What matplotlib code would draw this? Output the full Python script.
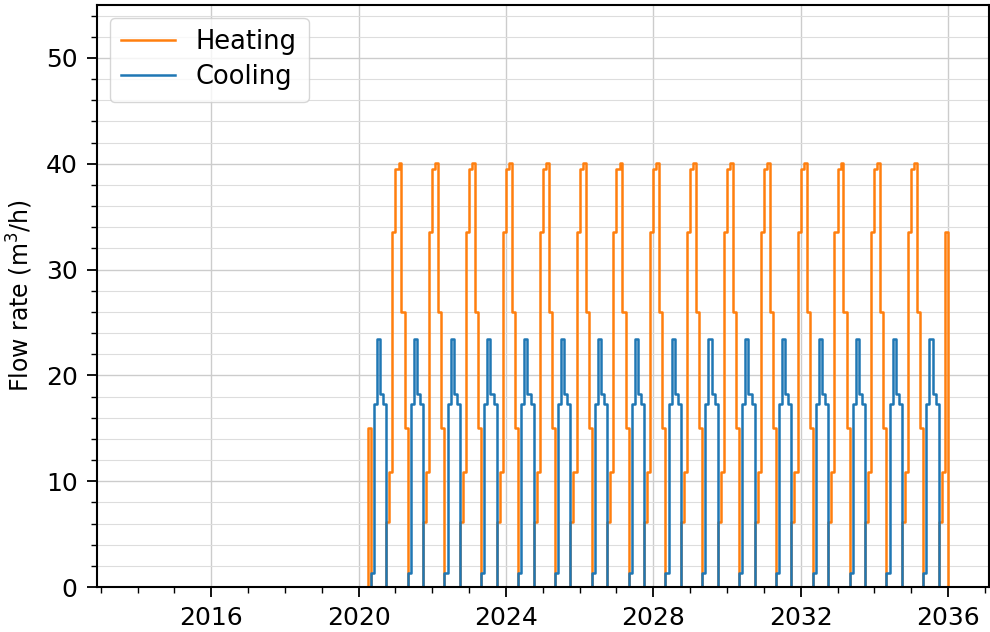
import matplotlib
matplotlib.use("Agg")
import matplotlib.pyplot as plt
import matplotlib.dates as mdates
from matplotlib.ticker import MultipleLocator
import numpy as np
import pandas as pd

# monthly profiles (Jan..Dec), m3/h
heating_profile = [39.5, 40.1, 26.0, 15.0, 0, 0, 0, 0, 0, 6.1, 10.9, 33.5]
cooling_profile = [0, 0, 0, 0, 1.3, 17.3, 23.4, 18.2, 17.3, 0, 0, 0]

# timeline: zero until the system starts in April 2020, ends Jan 2036
dates = pd.date_range("2014-01-01", "2036-01-01", freq="MS")
start = pd.Timestamp("2020-04-01")
end = pd.Timestamp("2036-01-01")

heating = [heating_profile[d.month - 1] if start <= d < end else 0.0 for d in dates]
cooling = [cooling_profile[d.month - 1] if start <= d < end else 0.0 for d in dates]

fig = plt.figure(figsize=(9.9, 6.32), dpi=100)
ax = fig.add_axes([0.098, 0.0712, 0.9005, 0.921])

ax.step(dates, heating, where="post", color="#ff7f0e", linewidth=1.8, label="Heating")
ax.step(dates, cooling, where="post", color="#1f77b4", linewidth=1.8, label="Cooling")

ax.set_ylim(0, 55)
ax.yaxis.set_major_locator(MultipleLocator(10))
ax.yaxis.set_minor_locator(MultipleLocator(2))
ax.xaxis.set_major_locator(mdates.YearLocator(4))
ax.xaxis.set_minor_locator(mdates.YearLocator(1))
ax.xaxis.set_major_formatter(mdates.DateFormatter("%Y"))

ax.grid(True, which="major", color="#cccccc", linewidth=1.0)
ax.yaxis.grid(True, which="minor", color="#dddddd", linewidth=0.8)
ax.set_axisbelow(True)

ax.tick_params(which="major", length=7, width=1.3, pad=7, labelsize=18)
ax.tick_params(which="minor", length=4, width=1.0)
for s in ax.spines.values():
    s.set_linewidth(1.5)

ax.set_ylabel("Flow rate (m$^3$/h)", fontsize=17, labelpad=8)
ax.legend(loc="upper left", fontsize=18.5, handlelength=2.1, borderpad=0.45,
          labelspacing=0.35, handletextpad=0.8)

fig.savefig("out.png", dpi=100)
